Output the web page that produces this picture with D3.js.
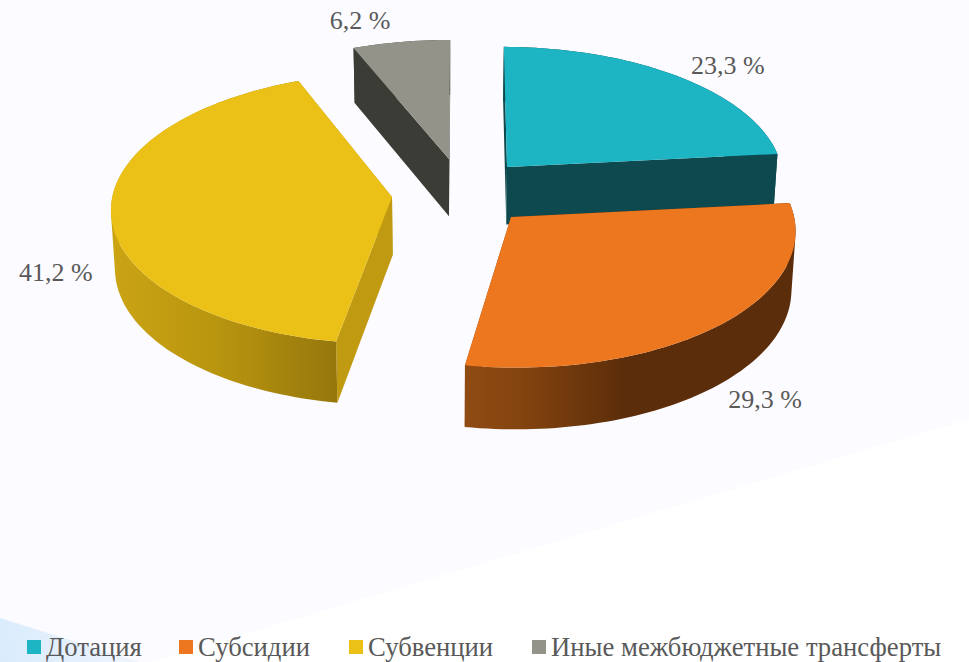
<!DOCTYPE html>
<html><head><meta charset="utf-8">
<script src="https://cdn.jsdelivr.net/npm/d3@7/dist/d3.min.js"></script>
<style>html,body{margin:0;padding:0;background:#fff}svg{display:block}text{font-family:"Liberation Serif",serif;fill:#595959}</style>
</head><body><svg id="c" width="969" height="662"></svg>
<script>
const categories = ["Дотация","Субсидии","Субвенции","Иные межбюджетные трансферты"];
const values = [23.3,29.3,41.2,6.2];
const topColors = ["#1db5c3","#ec771e","#ebc017","#93938a"];

// layout and style, kept apart from the data
const W=969,H=662,x0=447,y0=190,RX=278.5,RY=133.6,K=0.082,BOTTOM=0.988;
const apex=[[507,167],[511,217],[392,197],[449,159]];
const labelOff=[[50,-2],[44,84],[-55,69],[-41,-13]];
const legendX=[27,179,349,532];
const cutColors=[["#0d494e","#0d494e"],["#5c2d0a","#8f4b13"],["#c09a11","#c09a11"],["#3c3c36","#3c3c36"]];
const rimStops=[
 [[500,"#0d494e"],[800,"#0d494e"]],
 [[465,"#8f4b13"],[520,"#84440f"],[625,"#5c2d0a"],[800,"#5c2d0a"]],
 [[112,"#cba414"],[220,"#b8950f"],[336,"#96770c"]],
 [[340,"#3c3c36"],[460,"#3c3c36"]]
];

const svg=d3.select("#c");
const defs=svg.append("defs");
const corner=defs.append("linearGradient").attr("id","corner").attr("gradientUnits","userSpaceOnUse")
 .attr("x1",0).attr("y1",662).attr("x2",150).attr("y2",620);
corner.append("stop").attr("offset",0).attr("stop-color","#d9ebfc");
corner.append("stop").attr("offset",1).attr("stop-color","#f2f6fe");
svg.append("rect").attr("width",W).attr("height",H).attr("fill","#fcfbff");
svg.append("polygon").attr("points",`150,662 ${W},419 ${W},${H}`).attr("fill","#ffffff");
svg.append("polygon").attr("points",`0,618 140,662 0,662`).attr("fill","url(#corner)");

// perspective helpers
const toWorld=([sx,sy])=>{const t=(sy-y0)/RY,V=t/(1+K*t);return [(sx-x0)*(1-K*V),V];};
const proj=(X,V)=>{const w=1/(1-K*V);return [x0+X*w,y0+RY*V*w];};
const drop=(p,V)=>[x0+(p[0]-x0)*BOTTOM,p[1]+58/(1-0.05*V)];
const line=d3.line();
const offset=0.3*Math.PI/180;
const arcs=d3.pie().sort(null).startAngle(offset).endAngle(offset+2*Math.PI)(values);

const rimPt=(i,a)=>{const [X,V]=toWorld(apex[i]);const vv=V-Math.cos(a);return {p:proj(X+RX*Math.sin(a),vv),v:vv};};
const bot=o=>drop(o.p,o.v);
const apexTop=i=>{const [X,V]=toWorld(apex[i]);return {p:proj(X,V),v:V};};

rimStops.forEach((s,i)=>{
 const g=defs.append("linearGradient").attr("id","rim"+i).attr("gradientUnits","userSpaceOnUse")
  .attr("x1",s[0][0]).attr("x2",s[s.length-1][0]).attr("y1",0).attr("y2",0);
 const a=s[0][0],b=s[s.length-1][0];
 s.forEach(d=>g.append("stop").attr("offset",(d[0]-a)/(b-a)).attr("stop-color",d[1]));
});

[3,0,2,1].forEach(i=>{
 const d=arcs[i];
 const gr=svg.append("g");
 const n=Math.max(8,Math.round((d.endAngle-d.startAngle)*40));
 const angs=d3.range(n+1).map(j=>d.startAngle+(d.endAngle-d.startAngle)*j/n);
 const rim=angs.map(a=>rimPt(i,a));
 const A=apexTop(i);
 const cut=(o,c)=>gr.append("path").attr("d",line([A.p,o.p,bot(o),bot(A)])+"Z").attr("fill",c);
 cut(rim[rim.length-1],cutColors[i][1]);
 cut(rim[0],cutColors[i][0]);
 // outer wall: one path of equally wound quads, so the silhouette stays full
 const quads=d3.pairs(rim).map(([p,q])=>{
  const poly=[p.p,q.p,bot(q),bot(p)];
  return line(d3.polygonArea(poly)<0?poly.slice().reverse():poly)+"Z";
 }).join("");
 gr.append("path").attr("d",quads).attr("fill",`url(#rim${i})`);
 gr.append("path").attr("d",line([A.p].concat(rim.map(o=>o.p)))+"Z").attr("fill",topColors[i]);
});

const labels=arcs.map((d,i)=>{
 const m=rimPt(i,(d.startAngle+d.endAngle)/2).p;
 return {x:m[0]+labelOff[i][0],y:m[1]+labelOff[i][1],t:d3.format(".1f")(d.value).replace(".",",")+" %"};
});
svg.selectAll("text.lab").data(labels).join("text").attr("class","lab")
 .attr("x",d=>d.x).attr("y",d=>d.y).attr("text-anchor","middle").attr("font-size",26).text(d=>d.t);

const leg=svg.selectAll("g.leg").data(categories).join("g").attr("class","leg").attr("transform",(d,i)=>`translate(${legendX[i]},0)`);
leg.append("rect").attr("y",640).attr("width",14).attr("height",14).attr("fill",(d,i)=>topColors[i]);
leg.append("text").attr("x",19).attr("y",656).attr("font-size",26.7).text(d=>d);
</script></body></html>
